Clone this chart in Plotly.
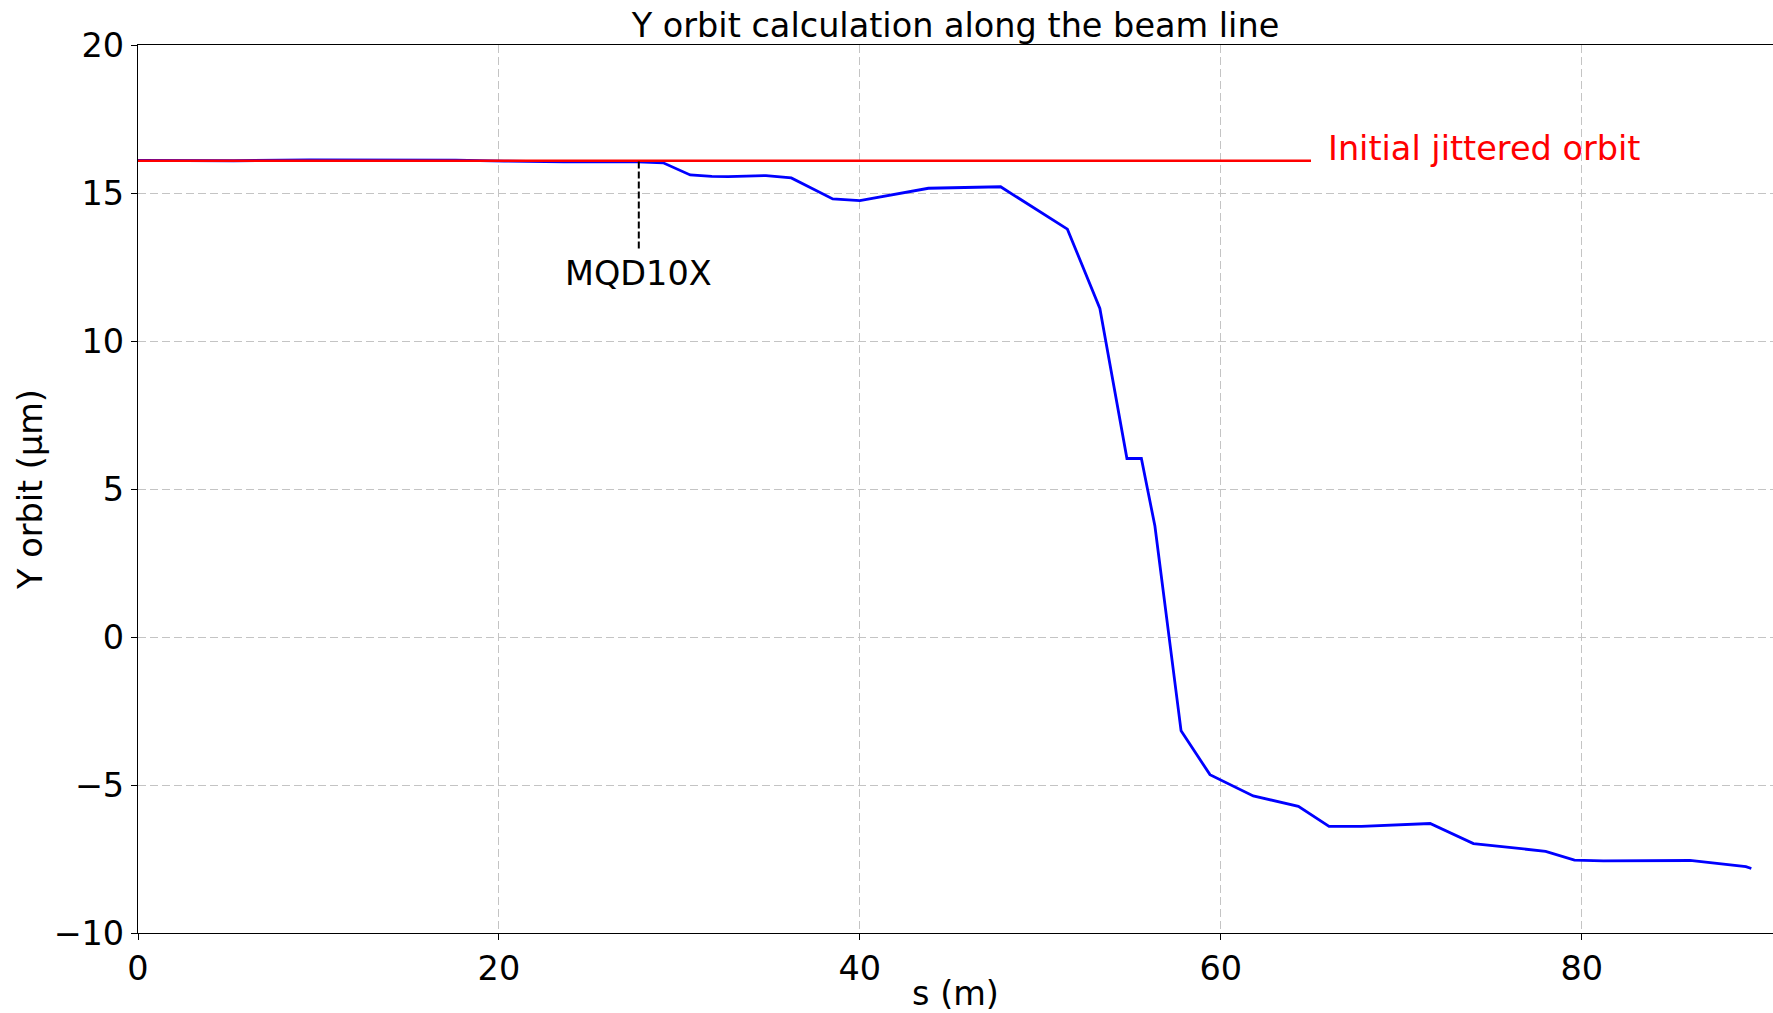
import plotly.graph_objects as go

# ---- data ----
s_orbit = [0.0, 5.3, 9.5, 13.6, 17.6, 20.3, 23.6, 27.7, 29.1, 30.6, 31.8, 32.7, 34.8, 36.2,
           38.5, 40.0, 43.8, 47.8, 51.5, 53.3, 54.8, 55.6, 56.35, 57.8, 59.4, 61.8, 64.3,
           66.0, 67.8, 71.6, 74.0, 78.0, 79.6, 81.2, 86.0, 89.1, 89.4]
y_orbit = [16.10, 16.09, 16.12, 16.12, 16.11, 16.08, 16.05, 16.05, 16.02, 15.61, 15.56, 15.55,
           15.59, 15.51, 14.80, 14.74, 15.16, 15.21, 13.78, 11.10, 6.03, 6.03, 3.75, -3.17,
           -4.65, -5.37, -5.72, -6.40, -6.40, -6.30, -6.98, -7.24, -7.54, -7.56, -7.55,
           -7.76, -7.82]

s_initial = [0.0, 65.0]
y_initial = [16.09, 16.09]
initial_label = "Initial jittered orbit"

mqd_name = "MQD10X"
mqd_s = 27.75
mqd_y_top = 16.06
mqd_y_bottom = 13.05

x_ticks = [0, 20, 40, 60, 80]
y_ticks = [-10, -5, 0, 5, 10, 15, 20]

FONT = "DejaVu Sans"
FS = 33.5

fig = go.Figure()
fig.add_trace(go.Scatter(x=s_orbit, y=y_orbit, mode="lines",
                         line=dict(color="#0000ff", width=2.8), showlegend=False))
fig.add_trace(go.Scatter(x=s_initial, y=y_initial, mode="lines",
                         line=dict(color="#ff0000", width=2.4), showlegend=False))
fig.add_trace(go.Scatter(x=[mqd_s, mqd_s], y=[mqd_y_top, mqd_y_bottom], mode="lines",
                         line=dict(color="black", width=2, dash="7px,3px"), showlegend=False))

fig.add_annotation(x=mqd_s, y=mqd_y_bottom, text=mqd_name, showarrow=False,
                   xanchor="center", yanchor="top", yshift=-1,
                   font=dict(family=FONT, size=FS, color="black"))
fig.add_annotation(x=s_initial[-1], y=y_initial[-1], text=initial_label, showarrow=False,
                   xanchor="left", yanchor="middle", xshift=15, yshift=12,
                   font=dict(family=FONT, size=FS, color="#ff0000"))

axis_common = dict(showline=True, linecolor="black", linewidth=1.2, mirror=True,
                   ticks="outside", ticklen=6, tickwidth=1.2, tickcolor="black",
                   showgrid=True, gridcolor="#c4c4c4", gridwidth=1.2, griddash="8px,4px",
                   zeroline=False, tickfont=dict(family=FONT, size=FS, color="black"))

fig.update_xaxes(range=[0, 90.6], tickvals=x_ticks,
                 title=dict(text="s (m)", font=dict(family=FONT, size=FS, color="black"), standoff=3),
                 **axis_common)
fig.update_yaxes(range=[-10, 20], tickvals=y_ticks,
                 title=dict(text="Y orbit (μm)", font=dict(family=FONT, size=FS, color="black"), standoff=0),
                 **axis_common)

fig.update_layout(
    width=1773, height=1013,
    margin=dict(l=138, r=0, t=45, b=80, autoexpand=False),
    paper_bgcolor="white", plot_bgcolor="white",
    title=dict(text="Y orbit calculation along the beam line", x=0.5, xref="paper",
               y=1 - 25 / 1013, yref="container", xanchor="center", yanchor="middle",
               font=dict(family=FONT, size=FS, color="black")),
    font=dict(family=FONT, size=FS, color="black"),
)

fig.write_html("out.html")
